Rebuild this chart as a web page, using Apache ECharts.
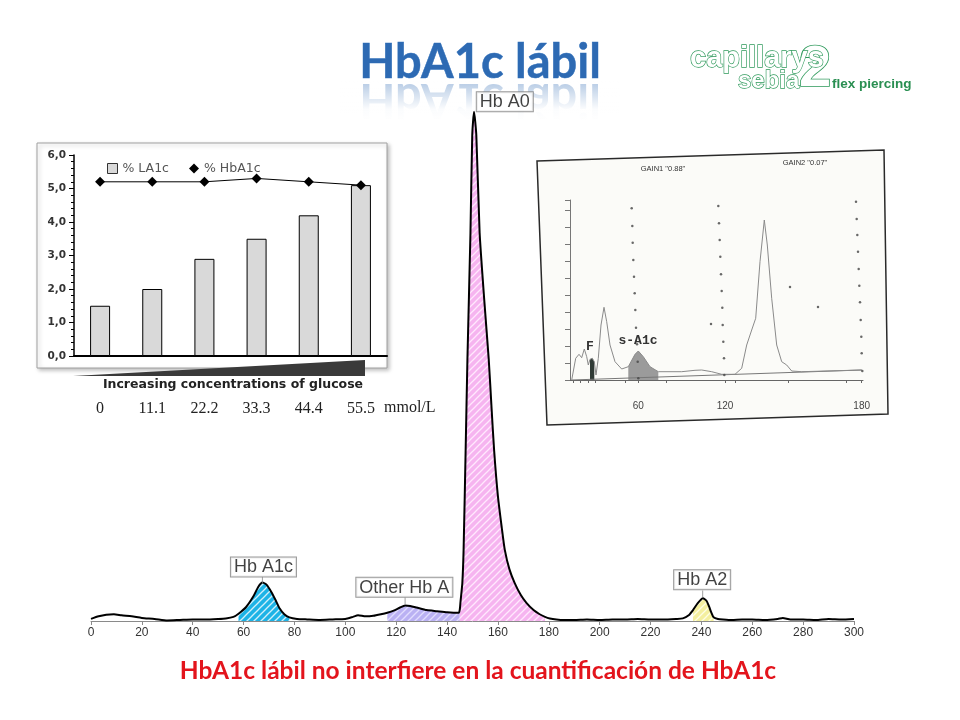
<!DOCTYPE html>
<html><head><meta charset="utf-8">
<script src="https://cdn.jsdelivr.net/npm/echarts@6/dist/echarts.min.js"></script>
<style>html,body{margin:0;padding:0;background:#fff}#c{width:960px;height:720px}</style>
</head><body><div id="c"></div>
<script>
// ===== Main electropherogram (x: migration position, y: relative signal) =====
const segBase1 = [[0,0.4],[3,0.9],[6,1.2],[9,1.3],[12,1.1],[16,0.9],[20,0.6],[25,0.4],[30,0.1],[35,0.2],[40,0.3],[45,0.3],[50,0.4],[53,0.5]];
const peakA1c = [[56,0.8],[58,1.4],[61,2.7],[63.8,4.7],[65.8,6.6],[67.4,7.4],[69,7.0],[70.9,5.6],[72.6,4.0],[74.2,2.4],[76,1.3],[78,0.7],[81,0.4]];
const segBase2 = [[85,0.3],[90,0.2],[95,0.3],[100,0.4],[103,0.8],[105,1.1],[108,0.9],[111,1.0],[114,1.3]];
const peakOther = [[116.5,1.6],[119,2.0],[121.5,2.6],[123.5,3.0],[125.5,2.9],[128,2.6],[132,2.1],[136,1.9],[140,1.7],[144.6,1.6]];
const peakA0 = [[145.0,2.2],[145.3,3.8],[146.0,7.3],[146.5,13.7],[147.3,32.9],[148.0,50.3],[149.2,74.8],[149.9,93.6],[150.6,98.1],[151.5,93.6],[152.8,74.8],[154.6,62],[156.4,50.3],[157.5,41],[158.5,32.9],[160,24],[161.5,18],[162.7,13.7],[164.5,10],[166.6,7.3],[169,5],[171.2,3.5],[174,2.1],[176.4,1.3],[178.5,0.8],[180.4,0.5],[183,0.3]];
const segBase3 = [[186,0.2],[190,0.2],[195,0.3],[200,0.2],[205,0.3],[210,0.3],[215,0.4],[220,0.3],[225,0.3],[230,0.4],[232.7,0.5]];
const peakA2 = [[235,1.1],[236.7,2.1],[238.5,3.4],[240.6,4.4],[242,3.9],[243,2.8],[244,1.5],[244.8,0.7],[246.5,0.4],[248.5,0.3]];
const segBase4 = [[252,0.2],[256,0.3],[260,0.3],[265,0.2],[270,0.4],[272,0.6],[275,0.3],[280,0.3],[285,0.2],[290,0.4],[295,0.3],[300,0.4]];

const fractionRanges = [[58,78],[115,145],[145,179],[236,245.5]];
const fractionColors = ['#1db3e6','#bab1f3','#f6b4f0','#f4ef9f'];
const fractionHatch  = ['rgba(255,255,255,0.8)','rgba(230,226,255,0.9)','rgba(255,235,253,0.95)','rgba(255,255,235,0.9)'];

const labelNames = ['Hb A0','Hb A1c','Other Hb A','Hb A2'];
const labelX = [162.7, 67.8, 123.2, 240.3];
const labelY = [98.1, 8.5, 4.6, 6.0];
const tickX = [67.4, 123.5, 240.5];
const tickY = [7.9, 3.85, 5.2];

// ===== Inset bar chart =====
const glucose = ['0','11.1','22.2','33.3','44.4','55.5'];
const la1c = [1.5, 2.0, 2.9, 3.5, 4.2, 5.1];
const hba1c = [5.2, 5.2, 5.2, 5.3, 5.2, 5.1];

// ===== Scanned capillary trace (position units, signal units) =====
const scanTrace = [[1.7,0],[5.7,21.7],[9,25.7],[11.7,22.3],[14.3,31],[16.7,23.3],[18.3,15],[20,20.7],[22.3,21.7],[24.3,18.3],[26,5],[28.3,21.7],[31,55],[34,72.7],[36.7,58.3],[40,35],[45,18.3],[51.7,11],[58.3,13.3],[65,25.7],[68.3,29],[73.3,23.3],[80,13.3],[88.3,8.3],[111.7,8.3],[125,9.7],[131.7,10],[141.7,8.3],[151.7,5.7],[165,5.7],[171.7,11.7],[176.7,35],[181.7,50],[185.7,61.7],[190,118.3],[194.3,160],[197.3,135],[201.7,81.7],[206.7,35],[211.7,18.3],[216.7,15],[221.7,9],[231.7,8.3],[291.7,10]];
const scanBaseline = [[1.7,0],[291.7,10]];
const scanFillF = [19, 25];
const scanFillS = [52, 92];
const scanTickPos = [3.3,10,18.3,25,55,68.3,96.7,155,165,218.3,276.7,291.7];
const scanLabelPos = [68.3, 155, 291.7];
const scanLabelText = ['60','120','180'];
const scanDots = [
 [61.7,171.7],[62.3,154],[62.7,137.3],[63.3,120],[64,103.3],[64.7,86.7],[65.3,70],[66,52.3],[67,35.7],[67.7,18.3],[68.3,1.7],
 [148.3,174],[149,156.7],[149.7,140],[150.3,123.3],[151,105.7],[151.7,89],[152.3,72.3],[152.7,55],[153.3,38.3],[154,21.7],[154.3,5],
 [286,178.3],[286.7,161],[287.3,145],[288,128.3],[288.7,111],[289.3,94.3],[290,77.7],[290.7,60],[291.3,43.3],[291.7,26.7],[292.3,9],
 [141,56],[220,93],[248,73]
];

// ---------------------------------------------------------------
const trace = [].concat(segBase1, peakA1c, segBase2, peakOther, peakA0, segBase3, peakA2, segBase4);
function inRange(pts, r){ return pts.filter(p => p[0] >= r[0] && p[0] <= r[1]); }
function hatch(bg, line){
  const c = document.createElement('canvas'); c.width = 7; c.height = 7;
  const g = c.getContext('2d');
  g.fillStyle = bg; g.fillRect(0,0,7,7);
  g.strokeStyle = line; g.lineWidth = 1.3;
  g.beginPath(); g.moveTo(-1,8); g.lineTo(8,-1); g.stroke();
  g.beginPath(); g.moveTo(-1,1); g.lineTo(1,-1); g.stroke();
  g.beginPath(); g.moveTo(6,8); g.lineTo(8,6); g.stroke();
  return {image: c, repeat: 'repeat'};
}

const chart = echarts.init(document.getElementById('c'), null, {renderer:'canvas', width:960, height:720});

const fillSeries = fractionRanges.map((r,i) => ({
  type:'line', xAxisIndex:0, yAxisIndex:0, data: inRange(trace, r),
  smooth:0.2, showSymbol:false, symbol:'none', z:2, silent:true,
  lineStyle:{width:0}, areaStyle:{color: hatch(fractionColors[i], fractionHatch[i]), opacity:1}
}));

const option = {
  animation:false,
  grid:[
    {left:91, right:106, top:102, bottom:99},
    {left:74, right:573, top:155, bottom:364},
    {left:570, right:97, top:200, bottom:340}
  ],
  legend:{
    left:102, top:157, itemWidth:10, itemHeight:10, itemGap:20,
    textStyle:{fontSize:12.5, color:'#555', fontFamily:'DejaVu Sans'},
    data:[{name:'% LA1c', icon:'rect', itemStyle:{color:'#d9d9d9', borderColor:'#333', borderWidth:1}},{name:'% HbA1c', icon:'diamond'}]
  },
  xAxis:[
    {type:'value', gridIndex:0, min:0, max:300, interval:20,
     axisLine:{lineStyle:{color:'#8a8a8a', width:1}},
     axisTick:{length:4, lineStyle:{color:'#8a8a8a'}},
     axisLabel:{fontSize:12, color:'#333', margin:6, fontFamily:'Liberation Sans'},
     splitLine:{show:false}},
    {type:'category', gridIndex:1, data:glucose,
     axisLine:{lineStyle:{color:'#000', width:2}}, axisTick:{show:false},
     axisLabel:{margin:45, fontSize:16, color:'#222', fontFamily:'Liberation Serif'}},
    {type:'value', gridIndex:2, min:0, max:293, offset:13,
     axisLine:{lineStyle:{color:'#666', width:1}},
     axisTick:{length:3, customValues:scanTickPos, lineStyle:{color:'#666'}},
     axisLabel:{customValues:scanLabelPos, fontSize:10, color:'#444', margin:8, fontFamily:'Liberation Sans',
       formatter:(v)=>{ const i = scanLabelPos.indexOf(v); return i>=0 ? scanLabelText[i] : ''; }},
     splitLine:{show:false}}
  ],
  yAxis:[
    {type:'value', gridIndex:0, min:0, max:100, show:false},
    {type:'value', gridIndex:1, min:0, max:6, interval:1,
     axisLine:{show:true, lineStyle:{color:'#000', width:1.5}},
     axisTick:{show:true, length:5, lineStyle:{color:'#000'}},
     minorTick:{show:true, splitNumber:5, length:3, lineStyle:{color:'#000'}},
     splitLine:{show:false},
     axisLabel:{fontSize:10.5, fontWeight:'bold', color:'#333', margin:8, fontFamily:'DejaVu Sans',
       formatter:(v)=>v.toFixed(1).replace('.',',')}},
    {type:'value', gridIndex:2, min:0, max:180, interval:17,
     axisLine:{show:true, lineStyle:{color:'#777', width:1}},
     axisTick:{show:true, length:5, lineStyle:{color:'#777'}},
     axisLabel:{show:false}, splitLine:{show:false}}
  ],
  series:[
    ...fillSeries,
    {type:'line', name:'trace', xAxisIndex:0, yAxisIndex:0, data:trace, smooth:0.2,
     showSymbol:false, symbol:'none', z:3, lineStyle:{color:'#000', width:2}},
    {type:'scatter', xAxisIndex:0, yAxisIndex:0, z:4, silent:true,
     data:tickX.map((x,i)=>[x, tickY[i]]), symbol:'rect', symbolSize:[1,7],
     itemStyle:{color:'#888'}},
    {type:'scatter', xAxisIndex:0, yAxisIndex:0, z:5, silent:true,
     data:labelX.map((x,i)=>({name:labelNames[i], value:[x, labelY[i]]})),
     symbolSize:1, itemStyle:{color:'rgba(0,0,0,0)'},
     label:{show:true, position:'top', distance:0, formatter:(p)=>p.name,
       fontSize:18, color:'#111', fontFamily:'Liberation Sans',
       backgroundColor:'#fff', borderColor:'#808080', borderWidth:1, padding:[1,3,0,3]}},
    {type:'bar', name:'% LA1c', xAxisIndex:1, yAxisIndex:1, data:la1c, barWidth:20,
     itemStyle:{color:'#d9d9d9', borderColor:'#000', borderWidth:1}},
    {type:'line', name:'% HbA1c', xAxisIndex:1, yAxisIndex:1, data:hba1c,
     symbol:'diamond', symbolSize:10, itemStyle:{color:'#000'}, lineStyle:{color:'#000', width:1}},
    {type:'line', xAxisIndex:2, yAxisIndex:2, data:inRange(scanTrace, scanFillS), symbol:'none', silent:true,
     lineStyle:{width:0}, areaStyle:{color:'#9b9b9b', opacity:1}, z:2},
    {type:'line', xAxisIndex:2, yAxisIndex:2, data:inRange(scanTrace, scanFillF), symbol:'none', silent:true,
     lineStyle:{width:0}, areaStyle:{color:'#2f3a35', opacity:1}, z:2},
    {type:'line', xAxisIndex:2, yAxisIndex:2, data:scanBaseline, symbol:'none', silent:true,
     lineStyle:{color:'#777', width:1}, z:3},
    {type:'line', xAxisIndex:2, yAxisIndex:2, data:scanTrace, symbol:'none', silent:true,
     lineStyle:{color:'#8a8a8a', width:1}, z:3},
    {type:'scatter', xAxisIndex:2, yAxisIndex:2, data:scanDots, symbolSize:2.5, silent:true,
     itemStyle:{color:'#444'}, z:3}
  ],
  graphic:[
    // inset boxes
    {type:'rect', z:-1, shape:{x:37, y:143, width:350, height:225},
     style:{fill:'#fff', stroke:'#a0a0a0', lineWidth:1, shadowBlur:4, shadowOffsetX:2, shadowOffsetY:2, shadowColor:'rgba(0,0,0,0.25)'}},
    {type:'polygon', z:-1, shape:{points:[[537,161],[884,150],[888,414],[547,425]]},
     style:{fill:'#fbfbf8', stroke:'#2a2a2a', lineWidth:1.5}},
    // glucose wedge + captions
    {type:'polygon', z:10, shape:{points:[[73,376],[365,360],[365,376]]}, style:{fill:'#3a3a3a'}},
    {type:'text', z:10, x:233, y:385, style:{text:'Increasing concentrations of glucose', font:'bold 12.5px "DejaVu Sans"', fill:'#222', textAlign:'center', textVerticalAlign:'middle'}},
    {type:'text', z:10, x:384, y:400, style:{text:'mmol/L', font:'16px "Liberation Serif"', fill:'#222', textAlign:'left', textVerticalAlign:'top'}},
    // scan annotations
    {type:'text', z:10, x:663, y:169, style:{text:'GAIN1 "0.88"', font:'7.5px "Liberation Sans"', fill:'#333', textAlign:'center', textVerticalAlign:'middle'}},
    {type:'text', z:10, x:805, y:163, style:{text:'GAIN2 "0.07"', font:'7.5px "Liberation Sans"', fill:'#333', textAlign:'center', textVerticalAlign:'middle'}},
    {type:'text', z:10, x:590, y:347, style:{text:'F', font:'bold 13px "Liberation Mono"', fill:'#333', textAlign:'center', textVerticalAlign:'middle'}},
    {type:'text', z:10, x:638, y:341, style:{text:'s-A1c', font:'bold 13px "Liberation Mono"', fill:'#333', textAlign:'center', textVerticalAlign:'middle'}},
    // title reflection (faded)
    {type:'text', z:0.5, x:480, y:63, scaleY:-1, originY:18, style:{text:'HbA1c lábil', font:'bold 47px Lato', textAlign:'center', textVerticalAlign:'middle', fill:'rgba(60,115,185,0.45)'}},
    {type:'rect', z:1, shape:{x:340, y:81, width:280, height:40},
     style:{fill:new echarts.graphic.LinearGradient(0,0,0,1,[{offset:0,color:'rgba(255,255,255,0.15)'},{offset:0.7,color:'rgba(255,255,255,0.95)'},{offset:1,color:'rgba(255,255,255,1)'}])}},
    // title
    {type:'text', z:10, x:480, y:63, style:{text:'HbA1c lábil', font:'bold 47px Lato', textAlign:'center', textVerticalAlign:'middle', fill:'#2d6ab3', stroke:'#3f7dc4', lineWidth:0.5}},
    // logo
    {type:'text', z:10, x:690, y:59, style:{text:'capillarys', font:'bold 29px "Liberation Sans"', fill:'#fff', stroke:'#2f9a5c', lineWidth:1.3, textAlign:'left', textVerticalAlign:'middle'}},
    {type:'text', z:10, x:738, y:81, style:{text:'sebia', font:'bold 24px "Liberation Sans"', fill:'#fff', stroke:'#2f9a5c', lineWidth:1.3, textAlign:'left', textVerticalAlign:'middle'}},
    {type:'text', z:9, x:799, y:70, style:{text:'2', font:'bold 58px "Liberation Sans"', fill:'#fff', stroke:'#2f9a5c', lineWidth:1.6, textAlign:'left', textVerticalAlign:'middle'}},
    {type:'text', z:10, x:832, y:84, style:{text:'flex piercing', font:'bold 13.5px "Liberation Sans"', fill:'#2a8f52', textAlign:'left', textVerticalAlign:'middle'}},
    // bottom message
    {type:'text', z:10, x:478, y:671, style:{text:'HbA1c lábil no interfiere en la cuantificación de HbA1c', font:'bold 24.5px Lato', fill:'#e3141c', textAlign:'center', textVerticalAlign:'middle'}}
  ]
};
chart.setOption(option);
</script>
</body></html>
